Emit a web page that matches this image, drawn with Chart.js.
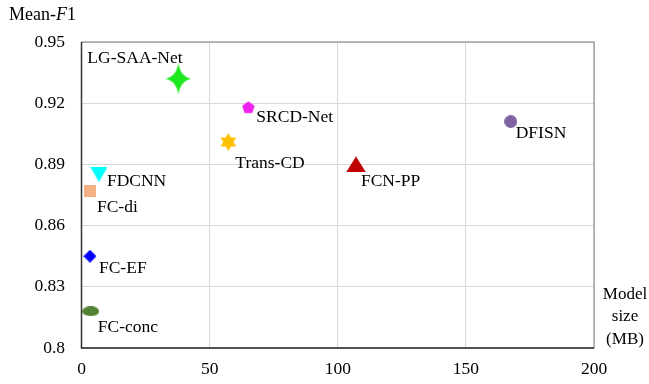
<!DOCTYPE html>
<html>
<head>
<meta charset="utf-8">
<script src="https://cdn.jsdelivr.net/npm/chart.js@4/dist/chart.umd.min.js"></script>
<style>
  html, body { margin: 0; padding: 0; background: #fff; }
  #wrap { width: 649px; height: 384px; position: relative; }
</style>
</head>
<body>
<div id="wrap"><canvas id="chart"></canvas></div>
<script>
const models = ['LG-SAA-Net', 'SRCD-Net', 'Trans-CD', 'FDCNN', 'FC-di', 'FC-EF', 'FC-conc', 'FCN-PP', 'DFISN'];
const modelSize = [37.8, 65.1, 57.3, 6.8, 3.3, 3.3, 3.6, 107.1, 167.5];
const meanF1 = [0.932, 0.918, 0.901, 0.885, 0.877, 0.845, 0.818, 0.890, 0.911];
const xTicks = [0, 50, 100, 150, 200];
const yTicks = [0.8, 0.83, 0.86, 0.89, 0.92, 0.95];

const FONT = '"Liberation Serif", "Times New Roman", serif';

// marker drawn on a small canvas, used as pointStyle
function marker(w, h, color, draw) {
  const c = document.createElement('canvas');
  c.width = w;
  c.height = h;
  const ctx = c.getContext('2d');
  ctx.fillStyle = color;
  ctx.beginPath();
  draw(ctx, w, h);
  ctx.fill();
  return c;
}

function starPath(ctx, cx, cy, n, outer, inner, rot) {
  for (let i = 0; i < n * 2; i++) {
    const r = i % 2 === 0 ? outer : inner;
    const a = rot + (Math.PI * i) / n;
    const px = cx + r * Math.cos(a);
    const py = cy + r * Math.sin(a);
    if (i === 0) ctx.moveTo(px, py); else ctx.lineTo(px, py);
  }
  ctx.closePath();
}

const markers = [
  marker(26, 32, '#1ee81e', (ctx, w, h) => {
    // 4-point star, taller than wide
    ctx.moveTo(w / 2, 0);
    ctx.quadraticCurveTo(w / 2 + 2, h / 2 - 2, w, h / 2);
    ctx.quadraticCurveTo(w / 2 + 2, h / 2 + 2, w / 2, h);
    ctx.quadraticCurveTo(w / 2 - 2, h / 2 + 2, 0, h / 2);
    ctx.quadraticCurveTo(w / 2 - 2, h / 2 - 2, w / 2, 0);
    ctx.closePath();
  }),
  marker(13, 13, '#f020f0', (ctx, w, h) => starPath(ctx, 6.5, 7, 5, 6.5, 6.5 * Math.cos(Math.PI / 5), -Math.PI / 2)),
  marker(18, 18, '#ffc000', (ctx, w, h) => starPath(ctx, 9, 9, 6, 9, 5.2, -Math.PI / 2)),
  marker(17, 15, '#00ffff', (ctx, w, h) => { ctx.moveTo(0, 0); ctx.lineTo(w, 0); ctx.lineTo(w / 2, h); ctx.closePath(); }),
  marker(12, 12, '#f4b183', (ctx, w, h) => ctx.rect(0, 0, w, h)),
  marker(13, 13, '#0000ff', (ctx, w, h) => { ctx.moveTo(w / 2, 0); ctx.lineTo(w, h / 2); ctx.lineTo(w / 2, h); ctx.lineTo(0, h / 2); ctx.closePath(); }),
  marker(17, 10, '#548235', (ctx, w, h) => ctx.ellipse(w / 2, h / 2, w / 2, h / 2, 0, 0, Math.PI * 2)),
  marker(20, 16, '#c00000', (ctx, w, h) => { ctx.moveTo(w / 2, 0); ctx.lineTo(w, h); ctx.lineTo(0, h); ctx.closePath(); }),
  marker(13, 13, '#8064a2', (ctx, w, h) => ctx.arc(w / 2, h / 2, 6.5, 0, Math.PI * 2))
];

// label offsets from the point (left edge of text, vertical middle)
const labelOffsets = [[-91, -20], [8, 10], [7, 21], [8, 7], [7, 16], [9, 12], [7, 16], [5, 17], [5, 12]];

const pointLabels = {
  id: 'pointLabels',
  afterDatasetsDraw(chart) {
    const ctx = chart.ctx;
    ctx.save();
    ctx.font = `17.5px ${FONT}`;
    ctx.fillStyle = '#000';
    ctx.textBaseline = 'middle';
    ctx.textAlign = 'left';
    chart.data.datasets.forEach((ds, i) => {
      const pt = chart.getDatasetMeta(i).data[0];
      ctx.fillText(ds.label, pt.x + labelOffsets[i][0], pt.y + labelOffsets[i][1]);
    });
    ctx.restore();
  }
};

const frame = {
  id: 'frame',
  beforeDatasetsDraw(chart) {
    const { ctx, chartArea: a } = chart;
    ctx.save();
    ctx.strokeStyle = '#7f7f7f';
    ctx.lineWidth = 1;
    ctx.strokeRect(a.left, a.top, a.right - a.left, a.bottom - a.top);
    ctx.strokeStyle = '#333';
    ctx.lineWidth = 1.5;
    ctx.beginPath();
    ctx.moveTo(a.left, a.top);
    ctx.lineTo(a.left, a.bottom);
    ctx.lineTo(a.right, a.bottom);
    ctx.stroke();
    ctx.restore();
  },
  afterDraw(chart) {
    const ctx = chart.ctx;
    ctx.save();
    ctx.fillStyle = '#000';
    ctx.textBaseline = 'middle';
    ctx.font = `18px ${FONT}`;
    ctx.textAlign = 'left';
    ctx.fillText('Mean-', 9, 15);
    const w = ctx.measureText('Mean-').width;
    ctx.font = `italic 18px ${FONT}`;
    ctx.fillText('F', 9 + w, 15);
    const w2 = ctx.measureText('F').width;
    ctx.font = `18px ${FONT}`;
    ctx.fillText('1', 9 + w + w2, 15);
    ctx.font = `17px ${FONT}`;
    ctx.textAlign = 'center';
    ctx.fillText('Model', 625, 295);
    ctx.fillText('size', 625, 317);
    ctx.fillText('(MB)', 625, 340);
    ctx.restore();
  }
};

new Chart(document.getElementById('chart'), {
  type: 'scatter',
  data: {
    datasets: models.map((name, i) => ({
      label: name,
      data: [{ x: modelSize[i], y: meanF1[i] }],
      pointStyle: markers[i],
      pointRadius: 8,
      pointHoverRadius: 8
    }))
  },
  options: {
    responsive: true,
    maintainAspectRatio: false,
    animation: false,
    layout: { padding: { top: 42, right: 55, left: 0, bottom: 0 } },
    plugins: { legend: { display: false }, tooltip: { enabled: false } },
    scales: {
      x: {
        type: 'linear',
        min: 0,
        max: 200,
        afterBuildTicks(scale) { scale.ticks = xTicks.map((v) => ({ value: v })); },
        afterFit(scale) { scale.height = 36; },
        grid: { color: '#d9d9d9', drawTicks: false },
        border: { display: false },
        ticks: { padding: 11, color: '#000', font: { family: FONT, size: 17.5 } }
      },
      y: {
        type: 'linear',
        min: 0.8,
        max: 0.95,
        afterBuildTicks(scale) { scale.ticks = yTicks.map((v) => ({ value: v })); },
        afterFit(scale) { scale.width = 81.5; },
        grid: { color: '#d9d9d9', drawTicks: false },
        border: { display: false },
        ticks: {
          padding: 16.5,
          color: '#000',
          font: { family: FONT, size: 17.5 },
          callback: (v) => String(Math.round(v * 100) / 100)
        }
      }
    }
  },
  plugins: [frame, pointLabels]
});
</script>
</body>
</html>
